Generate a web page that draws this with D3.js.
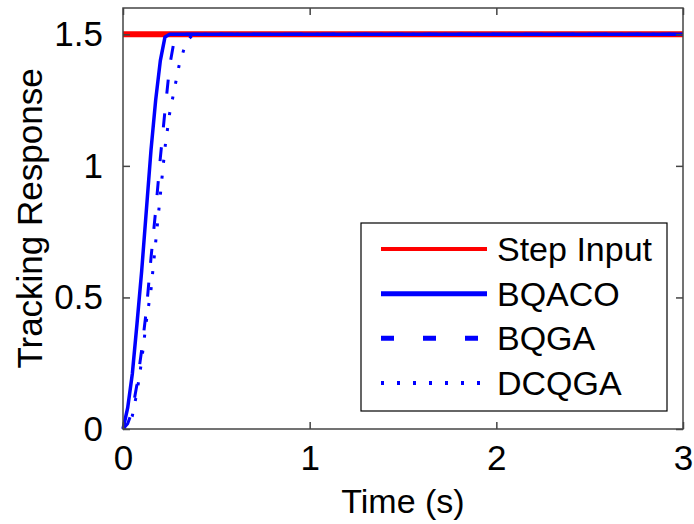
<!DOCTYPE html>
<html>
<head>
<meta charset="utf-8">
<script src="https://cdn.jsdelivr.net/npm/d3@7"></script>
<style>
  html, body { margin: 0; padding: 0; background: #fff; }
  svg { display: block; font-family: "Liberation Sans", Arial, sans-serif; }
</style>
</head>
<body>
<svg id="chart"></svg>
<script>
// time samples (s)
const time = [0, 0.025, 0.05, 0.075, 0.1, 0.125, 0.15, 0.175, 0.2, 0.225, 0.25, 0.275, 0.3, 0.325, 0.35, 0.375, 0.4, 0.5, 1, 2, 3];

// responses
const stepInput = [1.5, 1.5, 1.5, 1.5, 1.5, 1.5, 1.5, 1.5, 1.5, 1.5, 1.5, 1.5, 1.5, 1.5, 1.5, 1.5, 1.5, 1.5, 1.5, 1.5, 1.5];
const bqaco = [0, 0.08, 0.21, 0.4, 0.6, 0.83, 1.06, 1.25, 1.4, 1.49, 1.5, 1.5, 1.5, 1.5, 1.5, 1.5, 1.5, 1.5, 1.5, 1.5, 1.5];
const bqga = [0, 0.02, 0.07, 0.17, 0.3, 0.45, 0.65, 0.83, 1.03, 1.21, 1.38, 1.48, 1.5, 1.5, 1.5, 1.5, 1.5, 1.5, 1.5, 1.5, 1.5];
const dcqga = [0, 0.01, 0.05, 0.14, 0.26, 0.41, 0.53, 0.71, 0.89, 1.07, 1.2, 1.29, 1.38, 1.44, 1.48, 1.5, 1.5, 1.5, 1.5, 1.5, 1.5];

const seriesNames = ["Step Input", "BQACO", "BQGA", "DCQGA"];
const xTicks = [0, 1, 2, 3];
const yTicks = [0, 0.5, 1, 1.5];

const width = 694;
const height = 524;
const margin = { top: 8, right: 11, bottom: 95, left: 123 };

// line styles per series
const styles = [
  { color: "#ff0000", plotWidth: 6, legendWidth: 4, dash: null, legendDash: null },
  { color: "#0000ff", plotWidth: 3.5, legendWidth: 5, dash: null, legendDash: null },
  { color: "#0000ff", plotWidth: 3, legendWidth: 5, dash: "14,20", legendDash: "13,29" },
  { color: "#0000ff", plotWidth: 3, legendWidth: 4, dash: "3,13", legendDash: "3,13" },
];

const svg = d3.select("#chart")
  .attr("width", width)
  .attr("height", height)
  .attr("viewBox", `0 0 ${width} ${height}`);

const x = d3.scaleLinear()
  .domain([0, 3])
  .range([margin.left, width - margin.right]);

const y = d3.scaleLinear()
  .domain([0, 1.6])
  .range([height - margin.bottom, margin.top]);

const axisColor = "#444";

// lines
const series = [stepInput, bqaco, bqga, dcqga];
const line = d3.line()
  .x((d, i) => x(time[i]))
  .y((d) => y(d));

series.forEach((values, i) => {
  svg.append("path")
    .datum(values)
    .attr("d", line)
    .attr("fill", "none")
    .attr("stroke", styles[i].color)
    .attr("stroke-width", styles[i].plotWidth)
    .attr("stroke-dasharray", styles[i].dash)
    .attr("stroke-linejoin", "round");
});

// axes (MATLAB style box with inward ticks)
const styleAxis = (g) => {
  g.select(".domain").remove();
  g.selectAll("line").attr("stroke", axisColor).attr("stroke-width", 1.5);
  g.selectAll("text")
    .attr("fill", "#000")
    .style("font-size", "35px");
};

svg.append("g")
  .attr("transform", `translate(0,${y(0)})`)
  .call(d3.axisBottom(x).tickValues(xTicks).tickFormat(d3.format("d")).tickSizeInner(-7).tickPadding(16))
  .call(styleAxis)
  .selectAll("text")
  .attr("dy", "0.71em");

svg.append("g")
  .attr("transform", `translate(0,${y(1.6)})`)
  .call(d3.axisTop(x).tickValues(xTicks).tickSizeInner(-7).tickFormat(""))
  .call(styleAxis);

svg.append("g")
  .attr("transform", `translate(${x(0)},0)`)
  .call(d3.axisLeft(y).tickValues(yTicks).tickFormat(d3.format("")).tickSizeInner(-7).tickPadding(20))
  .call(styleAxis);

svg.append("g")
  .attr("transform", `translate(${x(3)},0)`)
  .call(d3.axisRight(y).tickValues(yTicks).tickSizeInner(-7).tickFormat(""))
  .call(styleAxis);

// frame
svg.append("rect")
  .attr("x", x(0))
  .attr("y", y(1.6))
  .attr("width", x(3) - x(0))
  .attr("height", y(0) - y(1.6))
  .attr("fill", "none")
  .attr("stroke", axisColor)
  .attr("stroke-width", 1.5);

// axis titles
svg.append("text")
  .attr("x", (x(0) + x(3)) / 2)
  .attr("y", 513)
  .attr("text-anchor", "middle")
  .style("font-size", "34px")
  .text("Time (s)");

svg.append("text")
  .attr("transform", `translate(42,${(y(0) + y(1.6)) / 2}) rotate(-90)`)
  .attr("text-anchor", "middle")
  .style("font-size", "35px")
  .text("Tracking Response");

// legend
const legendBox = { x: 361, y: 223, w: 306, h: 188 };
const legend = svg.append("g");

legend.append("rect")
  .attr("x", legendBox.x)
  .attr("y", legendBox.y)
  .attr("width", legendBox.w)
  .attr("height", legendBox.h)
  .attr("fill", "#fff")
  .attr("stroke", "#000")
  .attr("stroke-width", 1.2);

const rowY = d3.scalePoint()
  .domain(seriesNames)
  .range([249, 383]);

seriesNames.forEach((name, i) => {
  legend.append("line")
    .attr("x1", 381)
    .attr("x2", 487)
    .attr("y1", rowY(name))
    .attr("y2", rowY(name))
    .attr("stroke", styles[i].color)
    .attr("stroke-width", styles[i].legendWidth)
    .attr("stroke-dasharray", styles[i].legendDash);

  legend.append("text")
    .attr("x", 497)
    .attr("y", rowY(name) + 12)
    .style("font-size", "34px")
    .text(name);
});
</script>
</body>
</html>
